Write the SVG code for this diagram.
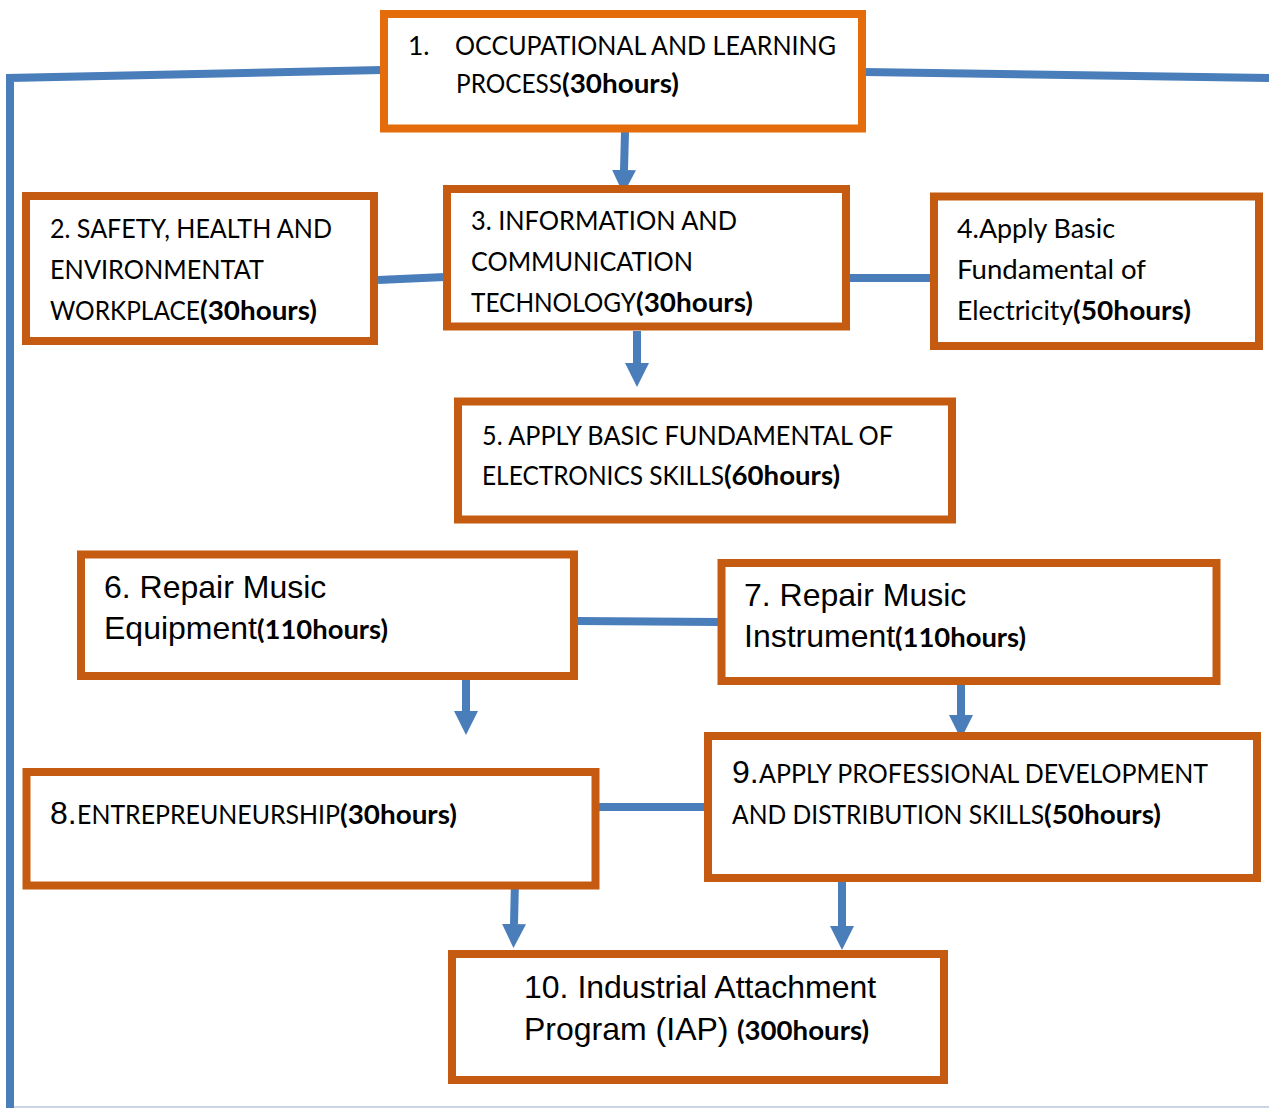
<svg xmlns="http://www.w3.org/2000/svg" width="1269" height="1108" viewBox="0 0 1269 1108">
<defs>
<style>
.box{fill:#fff;stroke:#C55A11;stroke-width:8}
.box1{fill:#fff;stroke:#E46C0A;stroke-width:8}
.ln{fill:none;stroke:#4A7EBB;stroke-width:8;stroke-linejoin:miter}
.ar{fill:none;stroke:#4A7EBB;stroke-width:8;marker-end:url(#ah)}
.c{font-family:Lato,"Open Sans","Noto Sans",sans-serif;font-size:26.5px;fill:#000}
.cb{font-family:Lato,"Open Sans","Noto Sans",sans-serif;font-weight:bold;fill:#000}
.a{font-family:"Liberation Sans",Arial,sans-serif;font-size:32px;fill:#000}
</style>
<marker id="ah" markerUnits="userSpaceOnUse" markerWidth="24" markerHeight="24" viewBox="0 0 24 24" refX="0" refY="12" orient="auto">
<path d="M0,0 L24,12 L0,24 z" fill="#4A7EBB"/>
</marker>
</defs>
<rect width="1269" height="1108" fill="#fff"/>
<line x1="14" y1="1107" x2="1269" y2="1107" stroke="#B8C9E0" stroke-width="1.5"/>

<g id="connectors">
<path class="ln" d="M382,70 L10,78 L10,1108"/>
<path class="ln" d="M864,72 L1269,78"/>
<path class="ln" d="M378,280 L445,277"/>
<path class="ln" d="M849,278 L932,278"/>
<path class="ln" d="M578,621 L719,622"/>
<path class="ln" d="M599,807 L706,807"/>
<path class="ar" d="M625,132 L624,170"/>
<path class="ar" d="M637,331 L637,363"/>
<path class="ar" d="M466,676 L466,711"/>
<path class="ar" d="M961,683 L961,715"/>
<path class="ar" d="M515,880 L514,924"/>
<path class="ar" d="M842,882 L842,926"/>
</g>

<g id="node1">
<rect class="box1" x="384" y="14" width="478" height="114.5"/>
<text class="c" y="55"><tspan x="408">1.</tspan><tspan x="455" textLength="381" lengthAdjust="spacingAndGlyphs">OCCUPATIONAL AND LEARNING</tspan></text>
<text class="c" y="93"><tspan x="456" textLength="106" lengthAdjust="spacingAndGlyphs">PROCESS</tspan><tspan class="cb" x="562" textLength="117" lengthAdjust="spacingAndGlyphs">(30hours)</tspan></text>
</g>

<g id="node2">
<rect class="box" x="26" y="196" width="348" height="145"/>
<text class="c" x="50" y="238" textLength="282" lengthAdjust="spacingAndGlyphs">2. SAFETY, HEALTH AND</text>
<text class="c" x="50" y="279" textLength="214" lengthAdjust="spacingAndGlyphs">ENVIRONMENTAT</text>
<text class="c" y="320"><tspan x="50" textLength="150" lengthAdjust="spacingAndGlyphs">WORKPLACE</tspan><tspan class="cb" x="200" textLength="117" lengthAdjust="spacingAndGlyphs">(30hours)</tspan></text>
</g>

<g id="node3">
<rect class="box" x="447" y="189" width="399" height="137.5"/>
<text class="c" x="471" y="230" textLength="266" lengthAdjust="spacingAndGlyphs">3. INFORMATION AND</text>
<text class="c" x="471" y="271" textLength="222" lengthAdjust="spacingAndGlyphs">COMMUNICATION</text>
<text class="c" y="312"><tspan x="471" textLength="165" lengthAdjust="spacingAndGlyphs">TECHNOLOGY</tspan><tspan class="cb" x="636" textLength="117" lengthAdjust="spacingAndGlyphs">(30hours)</tspan></text>
</g>

<g id="node4">
<rect class="box" x="934" y="196.5" width="325" height="149.5"/>
<text class="c" x="957" y="238" textLength="158" lengthAdjust="spacingAndGlyphs">4.Apply Basic</text>
<text class="c" x="957" y="279" textLength="189" lengthAdjust="spacingAndGlyphs">Fundamental of</text>
<text class="c" y="320"><tspan x="957" textLength="116" lengthAdjust="spacingAndGlyphs">Electricity</tspan><tspan class="cb" x="1073" textLength="118" lengthAdjust="spacingAndGlyphs">(50hours)</tspan></text>
</g>

<g id="node5">
<rect class="box" x="458" y="401.5" width="494" height="118"/>
<text class="c" x="482" y="445" textLength="411" lengthAdjust="spacingAndGlyphs">5. APPLY BASIC FUNDAMENTAL OF</text>
<text class="c" y="485"><tspan x="482" textLength="242" lengthAdjust="spacingAndGlyphs">ELECTRONICS SKILLS</tspan><tspan class="cb" x="724" textLength="116" lengthAdjust="spacingAndGlyphs">(60hours)</tspan></text>
</g>

<g id="node6">
<rect class="box" x="81" y="554.5" width="493" height="121.5"/>
<text class="a" x="104" y="598">6. Repair Music</text>
<text class="a" y="639"><tspan x="104">Equipment</tspan><tspan class="cb" style="font-size:26.5px" x="257" textLength="131" lengthAdjust="spacingAndGlyphs">(110hours)</tspan></text>
</g>

<g id="node7">
<rect class="box" x="721.5" y="563" width="495" height="118"/>
<text class="a" x="744" y="606">7. Repair Music</text>
<text class="a" y="647"><tspan x="744">Instrument</tspan><tspan class="cb" style="font-size:26.5px" x="895" textLength="131" lengthAdjust="spacingAndGlyphs">(110hours)</tspan></text>
</g>

<g id="node8">
<rect class="box" x="26.5" y="772" width="569" height="113.5"/>
<text class="a" y="824"><tspan x="50">8.</tspan><tspan class="c" x="77" textLength="263" lengthAdjust="spacingAndGlyphs">ENTREPREUNEURSHIP</tspan><tspan class="cb" style="font-size:26.5px" x="340" textLength="117" lengthAdjust="spacingAndGlyphs">(30hours)</tspan></text>
</g>

<g id="node9">
<rect class="box" x="708" y="736" width="549" height="142"/>
<text class="a" y="783"><tspan x="732">9.</tspan><tspan class="c" x="759" textLength="449" lengthAdjust="spacingAndGlyphs">APPLY PROFESSIONAL DEVELOPMENT</tspan></text>
<text class="c" y="824"><tspan x="732" textLength="312" lengthAdjust="spacingAndGlyphs">AND DISTRIBUTION SKILLS</tspan><tspan class="cb" x="1044" textLength="117" lengthAdjust="spacingAndGlyphs">(50hours)</tspan></text>
</g>

<g id="node10">
<rect class="box" x="452" y="954" width="492" height="126"/>
<text class="a" x="524" y="998">10. Industrial Attachment</text>
<text class="a" y="1040"><tspan x="524">Program (IAP) </tspan><tspan class="cb" style="font-size:26.5px" x="737" textLength="132" lengthAdjust="spacingAndGlyphs">(300hours)</tspan></text>
</g>
</svg>
